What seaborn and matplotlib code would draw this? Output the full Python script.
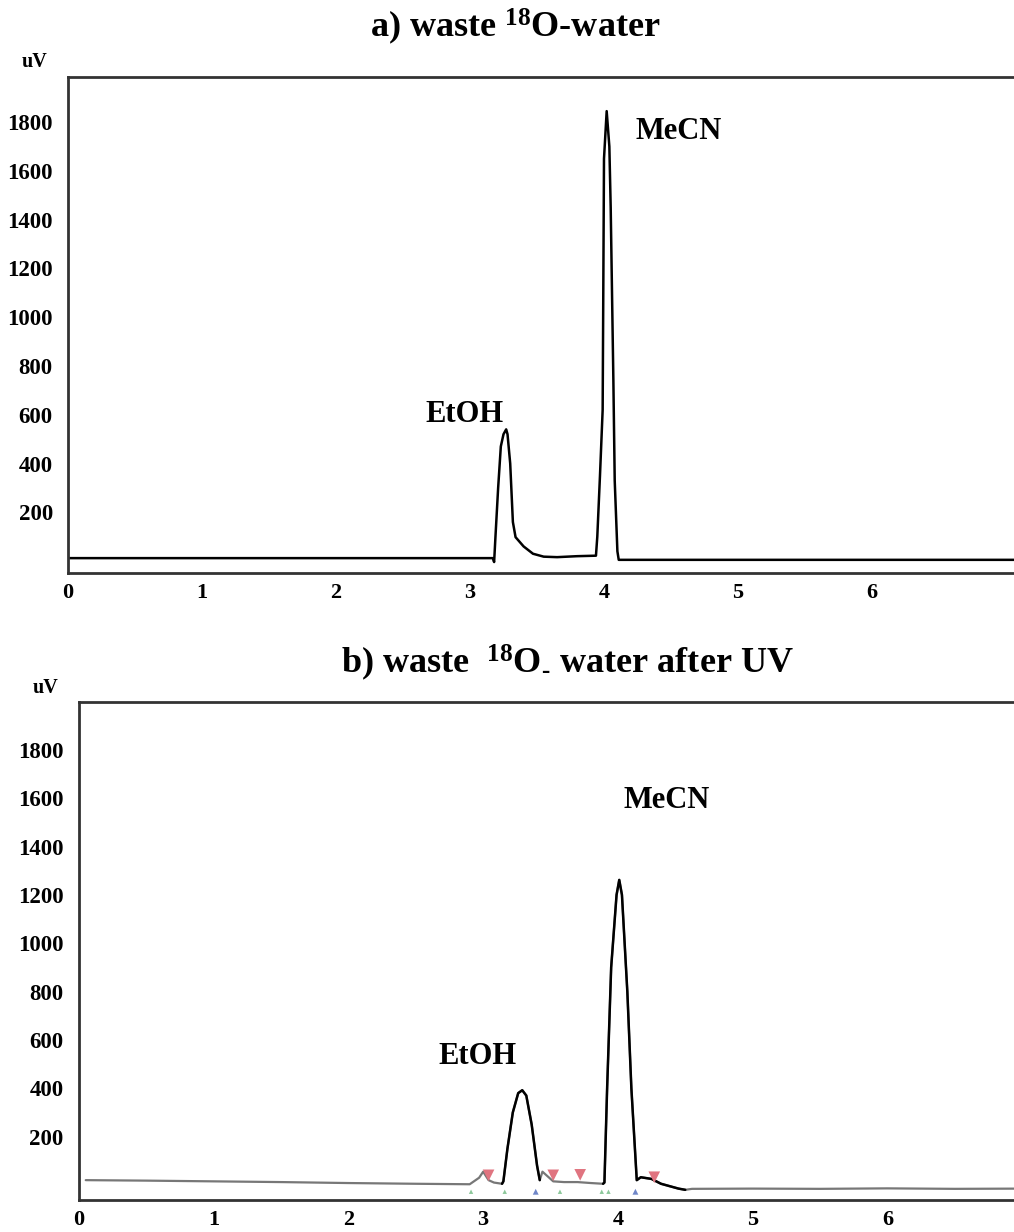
import numpy as np
import pandas as pd
import matplotlib
matplotlib.use("Agg")
import matplotlib.pyplot as plt
import seaborn as sns

# ---------------- data ----------------
time_a = [0.00, 3.17, 3.18, 3.19, 3.21, 3.23, 3.25, 3.27, 3.28, 3.30, 3.32, 3.34,
          3.40, 3.47, 3.55, 3.65, 3.80, 3.94, 3.95, 3.97, 3.99, 4.00, 4.02, 4.04,
          4.05, 4.07, 4.08, 4.10, 4.11, 7.10]
signal_a = [12, 12, -4, 100, 300, 470, 520, 540, 520, 400, 160, 98,
            60, 30, 18, 16, 20, 22, 100, 350, 620, 1650, 1845, 1700,
            1450, 740, 330, 40, 5, 5]

time_b = [0.05, 0.50, 1.00, 1.50, 2.00, 2.50, 2.90, 2.97, 3.00, 3.04, 3.08, 3.14,
          3.15, 3.18, 3.22, 3.26, 3.29, 3.32, 3.36, 3.40, 3.42, 3.44, 3.47, 3.52,
          3.60, 3.70, 3.80, 3.89, 3.90, 3.92, 3.95, 3.99, 4.01, 4.03, 4.07, 4.10,
          4.14, 4.17, 4.25, 4.32, 4.45, 4.50, 4.55, 5.00, 5.50, 6.00, 6.50, 7.00]
signal_b = [20, 18, 15, 12, 8, 5, 3, 30, 55, 20, 10, 5,
            15, 150, 300, 380, 392, 370, 250, 80, 20, 55, 40, 15,
            12, 12, 8, 5, 10, 400, 900, 1200, 1262, 1200, 800, 400,
            20, 32, 25, 5, -15, -20, -16, -15, -16, -14, -16, -15]

peak_windows_b = [(3.14, 3.42), (3.89, 4.50)]

red_marks_t = [3.04, 3.52, 3.72, 4.27]
red_marks_y = [40, 40, 42, 32]
blue_marks_t = [3.39, 4.13]
blue_marks_y = [-28, -28]
green_marks_t = [2.91, 3.16, 3.57, 3.88, 3.93]
green_marks_y = [-28, -28, -28, -28, -28]

x_ticks = [0, 1, 2, 3, 4, 5, 6]
y_ticks = [200, 400, 600, 800, 1000, 1200, 1400, 1600, 1800]
peak_names = ["EtOH", "MeCN"]
titles = [r"a) waste $\mathregular{^{18}}$O-water",
          r"b) waste  $\mathregular{^{18}O_{\text{-}}}$ water after UV"]

# ---------------- style ----------------
sns.set_theme(style="white")
plt.rcParams["font.family"] = ["Liberation Serif", "DejaVu Serif"]
plt.rcParams["font.weight"] = "bold"
plt.rcParams["text.color"] = "black"
plt.rcParams["mathtext.fontset"] = "custom"
plt.rcParams["mathtext.rm"] = "Liberation Serif:bold"
plt.rcParams["mathtext.default"] = "regular"

fig = plt.figure(figsize=(10.14, 12.32), dpi=100)
ax_a = fig.add_axes([0.0671, 0.5349, 0.9329, 0.4026])
ax_b = fig.add_axes([0.0779, 0.0260, 0.9221, 0.4042])

df_a = pd.DataFrame({"t": time_a, "s": signal_a})
df_b = pd.DataFrame({"t": time_b, "s": signal_b})

# panel a
sns.lineplot(data=df_a, x="t", y="s", ax=ax_a, color="black", lw=1.8,
             sort=False, estimator=None)

# panel b: gray noisy baseline + black peaks
sns.lineplot(data=df_b, x="t", y="s", ax=ax_b, color="#777777", lw=1.6,
             sort=False, estimator=None)
for lo, hi in peak_windows_b:
    seg = df_b[(df_b.t >= lo) & (df_b.t <= hi)]
    sns.lineplot(data=seg, x="t", y="s", ax=ax_b, color="black", lw=1.8,
                 sort=False, estimator=None)
sns.scatterplot(x=red_marks_t, y=red_marks_y, ax=ax_b, marker="v", s=70,
                color="#e07480", edgecolor="none", zorder=5)
sns.scatterplot(x=blue_marks_t, y=blue_marks_y, ax=ax_b, marker="^", s=18,
                color="#6f86c8", edgecolor="none", zorder=5)
sns.scatterplot(x=green_marks_t, y=green_marks_y, ax=ax_b, marker="^", s=10,
                color="#8cc89a", edgecolor="none", zorder=5)

limits = [((0, 7.06), (-49, 1985)), ((0, 6.94), (-62, 1998))]
for ax, (xl, yl) in zip([ax_a, ax_b], limits):
    ax.set_xlim(*xl)
    ax.set_ylim(*yl)
    ax.set_xticks(x_ticks)
    ax.set_yticks(y_ticks)
    ax.set_xticklabels([str(v) for v in x_ticks], fontsize=16, fontweight="bold")
    ax.set_yticklabels([str(v) for v in y_ticks], fontsize=16.5, fontweight="bold")
    ax.tick_params(axis="both", length=0, colors="black")
    ax.tick_params(axis="y", pad=11)
    ax.tick_params(axis="x", pad=7)
    ax.set_xlabel("")
    ax.set_ylabel("")
    for side in ["left", "top", "bottom"]:
        ax.spines[side].set_color("#333333")
        ax.spines[side].set_linewidth(2.0)
    ax.spines["right"].set_visible(False)
    ax.grid(False)

# peak labels
lab = dict(fontsize=22, fontweight="bold", ha="center", va="center", color="black")
ax_a.text(2.96, 600, peak_names[0], **lab)
ax_a.text(4.56, 1760, peak_names[1], **lab)
ax_b.text(2.96, 532, peak_names[0], **lab)
ax_b.text(4.36, 1592, peak_names[1], **lab)

# titles and unit labels
fig.text(0.508, 0.978, titles[0], fontsize=26, fontweight="bold", ha="center", va="center")
fig.text(0.560, 0.462, titles[1], fontsize=26, fontweight="bold", ha="center", va="center")
fig.text(0.0345, 0.9497, "uV", fontsize=14.5, fontweight="bold", ha="center", va="center")
fig.text(0.045, 0.4416, "uV", fontsize=14.5, fontweight="bold", ha="center", va="center")

fig.savefig("out.png", dpi=100, facecolor="white")
